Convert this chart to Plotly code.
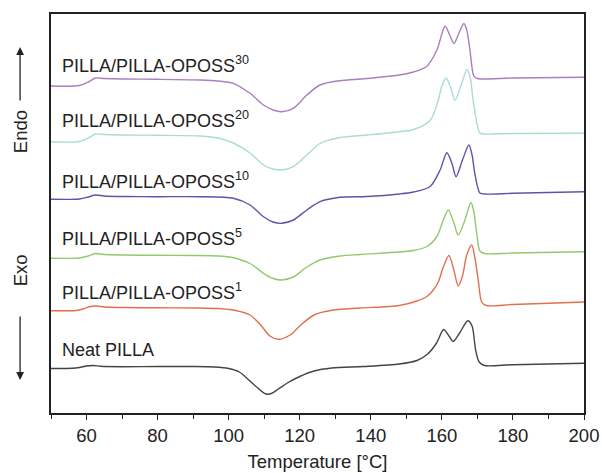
import plotly.graph_objects as go

# Temperature (°C) and heat-flow readings (arbitrary units, offset per curve)
neat_T = [50, 56, 58, 60, 62, 64, 70, 80, 90, 96, 100, 103, 106, 108.5, 110.5, 112, 114, 116.5, 120, 124, 129, 138, 148, 153, 156, 158.5, 160.5, 162, 163.2, 165, 167.3, 168.5, 169.5, 170.5, 172, 180, 200]
neat_Y = [368.5, 368.3, 367.5, 366, 365.5, 366.3, 366.7, 366.5, 366.5, 367, 368.5, 372, 381, 389, 394, 393.5, 389, 383, 376.5, 371, 368, 366.5, 364, 360.5, 354, 343, 329.5, 336, 341.5, 333, 320.7, 326, 350, 362, 365.5, 364.7, 363.3]

p1_T = [50, 57, 59, 61, 63, 65, 70, 80, 90, 98, 102, 106, 109, 111.6, 114, 117.3, 120, 124, 129.4, 137, 148, 153, 155.8, 157.6, 159, 160.4, 162, 163.5, 164.6, 165.8, 167, 168.4, 169.3, 170.3, 171.2, 172.5, 180, 200]
p1_Y = [310.7, 310.5, 309, 306.5, 306, 307, 307.5, 307.8, 308, 308.8, 310.5, 315, 325, 336, 339.3, 335, 326, 315, 310, 308, 305.5, 301, 296.5, 290, 282, 267, 255.5, 272, 286, 276, 255, 245, 258, 282, 302, 305.5, 304.5, 302]

p5_T = [50, 58, 60.5, 62.5, 65, 70, 80, 90, 97, 101, 106, 109.8, 112.5, 115, 118.2, 122, 125.7, 131.3, 137, 148, 152, 155.8, 158.6, 160.4, 161.8, 163.3, 164.6, 166.3, 168.2, 169, 169.8, 170.7, 172, 180, 200]
p5_Y = [258.3, 258, 256, 253.5, 254.5, 255, 255.3, 255.5, 256, 257.5, 263.5, 273.3, 278.5, 280, 277, 267, 260, 256, 254.5, 252, 250.5, 246.5, 236.5, 220, 210, 222, 235, 222, 202.5, 212, 233, 251, 253.5, 253, 251.7]

p10_T = [50, 58, 60.5, 62.5, 65, 70, 80, 92, 101.3, 106, 109.8, 112.5, 115, 118.2, 122, 125.7, 131.3, 138.9, 148, 152, 156.7, 159.5, 161.4, 162.8, 164, 165.8, 167.6, 168.5, 169.3, 170.7, 172, 180, 200]
p10_Y = [199.3, 199, 197, 195, 196, 196.5, 196.7, 196.7, 198.3, 205, 216.7, 222, 223.3, 220, 210, 201.7, 197.3, 196.5, 194, 192, 186.5, 170, 152.7, 163, 176.7, 160, 145, 155, 174, 193, 194, 193.3, 191.7]

p20_T = [50, 58, 60.5, 62.5, 65, 70, 80, 92, 97, 101.3, 106, 109.8, 112.5, 115, 118.2, 122, 125.7, 131.3, 138.9, 148, 152, 156.7, 159, 160, 161.2, 162.5, 163.7, 165.5, 167.1, 168, 168.9, 170.7, 172, 180, 200]
p20_Y = [141.7, 141.5, 138, 134, 134.5, 135, 135.3, 136, 138, 143, 153, 165, 169, 170, 166.7, 155, 143.5, 137.5, 135, 131.7, 129.5, 120.5, 100, 86, 78, 88, 100.5, 84, 69.5, 78, 103, 133, 134, 133.5, 133.3]

p30_T = [50, 58, 60.5, 62.5, 65, 70, 80, 92, 97, 101.3, 106, 109.8, 112.5, 115, 118.2, 122, 125.7, 131.3, 138, 148, 152, 155.7, 158.6, 160.9, 162.2, 163.4, 164.8, 166.2, 167, 167.9, 169, 170, 180, 200]
p30_Y = [86, 85.5, 82, 78, 78.5, 79, 79.3, 80, 81, 83.3, 93.3, 105, 110, 111.7, 108.3, 95, 85, 80.7, 78.8, 75, 72, 66.5, 50, 26.3, 35, 43.5, 33, 23.5, 30, 50, 76, 78.5, 78, 77.3]

labels = ["Neat PILLA", "PILLA/PILLA-OPOSS<sup>1</sup>", "PILLA/PILLA-OPOSS<sup>5</sup>",
          "PILLA/PILLA-OPOSS<sup>10</sup>", "PILLA/PILLA-OPOSS<sup>20</sup>", "PILLA/PILLA-OPOSS<sup>30</sup>"]
label_Y = [350, 291.7, 237, 180, 119.7, 64.5]
colors = ["#454545", "#e2704f", "#93c96c", "#5b55aa", "#a9dcd6", "#a97fbf"]

TOP = 413  # conversion: plotted value = TOP - reading
series = [(neat_T, neat_Y), (p1_T, p1_Y), (p5_T, p5_Y), (p10_T, p10_Y), (p20_T, p20_Y), (p30_T, p30_Y)]

fig = go.Figure()
for (t, y), c, lab in zip(series, colors, labels):
    fig.add_trace(go.Scatter(x=t, y=[TOP - v for v in y], mode="lines",
                             line=dict(color=c, width=1.4, shape="spline", smoothing=0.8),
                             name=lab, showlegend=False))

FONT = "Liberation Sans, Arial, sans-serif"
FS = 18.5
for lab, ly in zip(labels, label_Y):
    fig.add_annotation(x=52.6, y=TOP - ly, text=lab, showarrow=False, xanchor="left", yanchor="middle",
                       font=dict(family=FONT, size=18, color="#222"))

# Endo / Exo side labels with arrows
fig.add_annotation(xref="paper", yref="paper", x=-0.058, y=0.704, text="Endo", textangle=-90,
                   xanchor="center", yanchor="middle",
                   showarrow=False, font=dict(family=FONT, size=FS, color="#222"))
fig.add_annotation(xref="paper", yref="paper", x=-0.058, y=0.358, text="Exo", textangle=-90,
                   xanchor="center", yanchor="middle",
                   showarrow=False, font=dict(family=FONT, size=FS, color="#222"))
fig.add_annotation(xref="paper", yref="paper", x=-0.058, y=0.917, text="", showarrow=True,
                   ax=0, ay=55, arrowhead=2, arrowsize=1.2, arrowwidth=1.3, arrowcolor="#222", standoff=0)
fig.add_annotation(xref="paper", yref="paper", x=-0.058, y=0.083, text="", showarrow=True,
                   ax=0, ay=-65, arrowhead=2, arrowsize=1.2, arrowwidth=1.3, arrowcolor="#222", standoff=0)

fig.update_layout(
    width=602, height=473,
    margin=dict(l=51, r=18, t=14, b=60, autoexpand=False),
    plot_bgcolor="white", paper_bgcolor="white",
    font=dict(family=FONT, size=FS, color="#222"),
)
fig.update_xaxes(range=[50, 200], tickvals=[60, 80, 100, 120, 140, 160, 180, 200],
                 ticks="outside", ticklen=5, tickwidth=1.3, tickcolor="#222",
                 minor=dict(tickvals=[50, 70, 90, 110, 130, 150, 170, 190], ticks="outside", ticklen=4, tickwidth=1.3, tickcolor="#222"),
                 showline=True, linecolor="#222", linewidth=1.6, mirror=True, showgrid=False, zeroline=False,
                 automargin=False,
                 title=dict(text="Temperature [°C]", font=dict(size=FS), standoff=10),
                 tickfont=dict(size=FS))
fig.update_yaxes(range=[0, 399], showticklabels=False, ticks="", showline=True, linecolor="#222",
                 linewidth=1.6, mirror=True, showgrid=False, zeroline=False, automargin=False)

fig.write_html("out.html")
